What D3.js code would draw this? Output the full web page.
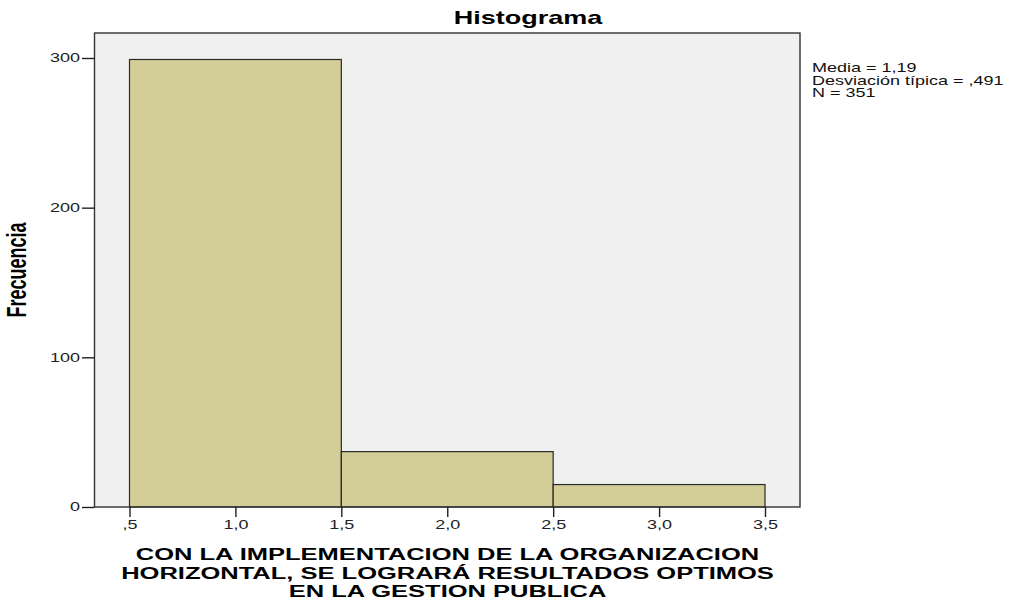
<!DOCTYPE html>
<html>
<head>
<meta charset="utf-8">
<script src="https://cdn.jsdelivr.net/npm/d3@7"></script>
<style>
  html, body { margin: 0; padding: 0; background: #fff; }
  svg { display: block; font-family: "Liberation Sans", Arial, sans-serif; }
</style>
</head>
<body>
<svg id="chart" width="1013" height="602"></svg>
<script>
// ---- data ----
const binStarts = [0.5, 1.5, 2.5];
const binEnds = [1.5, 2.5, 3.5];
const counts = [299, 37, 15];
const xTickValues = [0.5, 1.0, 1.5, 2.0, 2.5, 3.0, 3.5];
const xTickLabels = [",5", "1,0", "1,5", "2,0", "2,5", "3,0", "3,5"];
const yTickValues = [0, 100, 200, 300];
const yTickLabels = ["0", "100", "200", "300"];
const titleText = "Histograma";
const yLabel = "Frecuencia";
const xLabelLines = [
  "CON LA IMPLEMENTACION DE LA ORGANIZACION",
  "HORIZONTAL, SE LOGRARÁ RESULTADOS OPTIMOS",
  "EN LA GESTION PUBLICA"
];
const statsLines = ["Media = 1,19", "Desviación típica = ,491", "N = 351"];

// ---- layout ----
const SX = 1.5; // horizontal text stretch of the original export
const frame = { left: 94.5, top: 33, right: 800, bottom: 507 };
const svg = d3.select("#chart");

const x = d3.scaleLinear().domain([0.3348, 3.6652]).range([frame.left, frame.right]);
const y = d3.scaleLinear().domain([0, 316.7]).range([frame.bottom, frame.top]);

// plot background
svg.append("rect")
  .attr("x", frame.left).attr("y", frame.top)
  .attr("width", frame.right - frame.left).attr("height", frame.bottom - frame.top)
  .attr("fill", "#f0f0f0");

// bars
const bins = counts.map((c, i) => ({ x0: binStarts[i], x1: binEnds[i], n: c }));
svg.append("g").selectAll("rect").data(bins).join("rect")
  .attr("x", d => x(d.x0))
  .attr("y", d => y(d.n))
  .attr("width", d => x(d.x1) - x(d.x0))
  .attr("height", d => y(0) - y(d.n))
  .attr("fill", "#d3ce97")
  .attr("stroke", "#2a2a2a")
  .attr("stroke-width", 1.2);

// frame
svg.append("rect")
  .attr("x", frame.left).attr("y", frame.top)
  .attr("width", frame.right - frame.left).attr("height", frame.bottom - frame.top)
  .attr("fill", "none")
  .attr("stroke", "#333")
  .attr("stroke-width", 1.4);

// x axis
const xAxis = d3.axisBottom(x)
  .tickValues(xTickValues)
  .tickFormat((d, i) => xTickLabels[i])
  .tickSize(10).tickSizeOuter(0).tickPadding(3);
const gx = svg.append("g").attr("transform", `translate(0,${frame.bottom})`).call(xAxis);
gx.select(".domain").remove();
gx.selectAll(".tick line").attr("stroke", "#222").attr("stroke-width", 1.4);
gx.selectAll(".tick text")
  .attr("font-size", 12).attr("fill", "#222")
  .attr("font-family", "Liberation Sans, Arial, sans-serif")
  .attr("transform", `scale(${SX},1)`);

// y axis
const yAxis = d3.axisLeft(y)
  .tickValues(yTickValues)
  .tickFormat((d, i) => yTickLabels[i])
  .tickSize(12.5).tickSizeOuter(0).tickPadding(2);
const gy = svg.append("g").attr("transform", `translate(${frame.left},0)`).call(yAxis);
gy.select(".domain").remove();
gy.selectAll(".tick line").attr("stroke", "#222").attr("stroke-width", 1.4);
gy.selectAll(".tick text")
  .attr("font-size", 12).attr("fill", "#222")
  .attr("font-family", "Liberation Sans, Arial, sans-serif")
  .attr("x", -14.5 / SX)
  .attr("transform", `scale(${SX},1)`);

// title
svg.append("text")
  .attr("transform", `translate(528,24) scale(${SX},1)`)
  .attr("text-anchor", "middle")
  .attr("font-size", 18).attr("font-weight", "bold").attr("fill", "#000")
  .text(titleText);

// y label
svg.append("text")
  .attr("transform", `translate(26,270) scale(${SX},1) rotate(-90)`)
  .attr("text-anchor", "middle")
  .attr("font-size", 18).attr("font-weight", "bold").attr("fill", "#000")
  .text(yLabel);

// x label
const xl = svg.append("g");
xLabelLines.forEach((t, i) => {
  xl.append("text")
    .attr("transform", `translate(447.5,${560 + i * 18.5}) scale(${SX},1)`)
    .attr("text-anchor", "middle")
    .attr("font-size", 17).attr("font-weight", "bold").attr("fill", "#000")
    .text(t);
});

// stats
statsLines.forEach((t, i) => {
  svg.append("text")
    .attr("transform", `translate(812,${72 + i * 12.5}) scale(${SX},1)`)
    .attr("font-size", 12).attr("fill", "#111")
    .text(t);
});
</script>
</body>
</html>
